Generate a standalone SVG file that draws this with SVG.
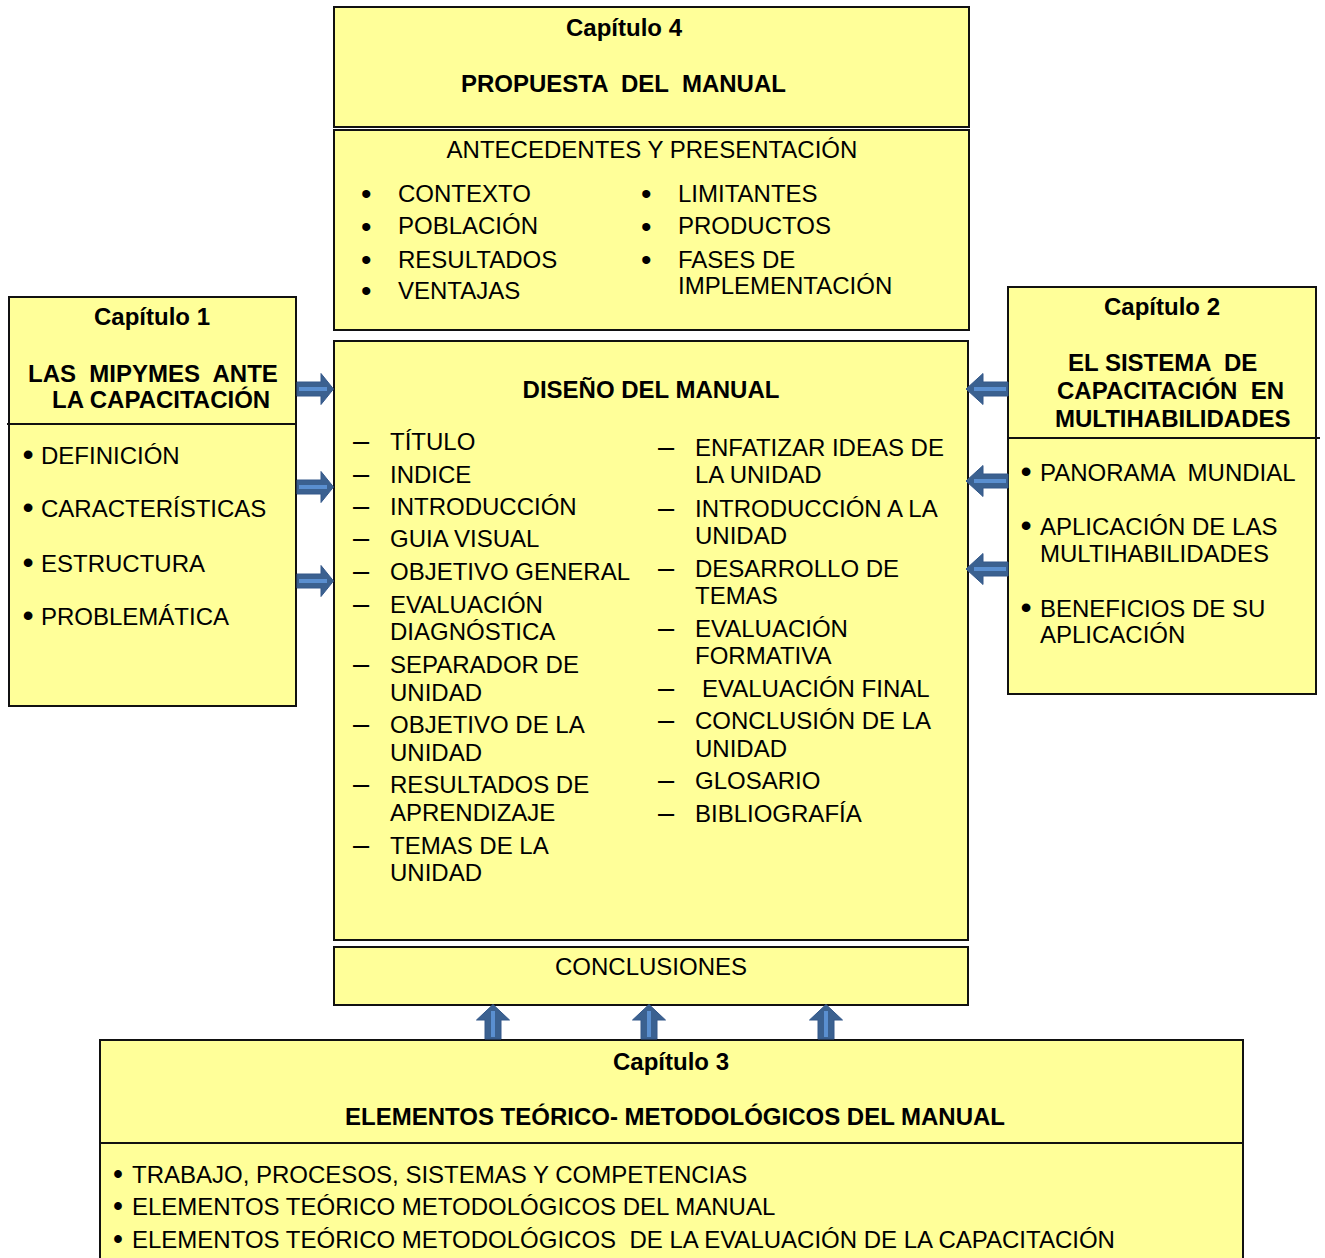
<svg xmlns="http://www.w3.org/2000/svg" width="1325" height="1258" viewBox="0 0 1325 1258">
  <style>
    .box { fill: #FFFF99; stroke: #111; stroke-width: 2; }
    .rule { stroke: #111; stroke-width: 2; }
    text { font-family: "Liberation Sans", Arial, sans-serif; font-size: 24px; fill: #000; }
    .b { font-weight: bold; }
    .mid { text-anchor: middle; }
    .big { font-size: 30px; }
    .dot { font-size: 32px; text-anchor: middle; }
    .dot-s { font-size: 27px; font-weight: bold; text-anchor: middle; }
    .dash { font-size: 29px; text-anchor: middle; }
    .arrow { fill: #3b6190; stroke: #34588a; stroke-width: 1; }
    .shine { stroke: #5a8fd0; stroke-width: 4; }
  </style>
  <defs>
    <!-- block arrow pointing right, origin at the tail centre -->
    <g id="arrowR">
      <polygon class="arrow" points="0,-7 24,-7 24,-15.5 36.5,0 24,15.5 24,7 0,7"/>
      <line class="shine" x1="2" y1="0" x2="30" y2="0"/>
    </g>
    <!-- block arrow pointing left, origin at the tail centre -->
    <g id="arrowL">
      <polygon class="arrow" points="0,-7 -25,-7 -25,-15.5 -42,0 -25,15.5 -25,7 0,7"/>
      <line class="shine" x1="-2" y1="0" x2="-34" y2="0"/>
    </g>
    <!-- block arrow pointing up, origin at the tail centre -->
    <g id="arrowU">
      <polygon class="arrow" points="-8,0 -8,-19 -16.5,-19 0,-34.5 16.5,-19 8,-19 8,0"/>
      <line class="shine" x1="0" y1="-2" x2="0" y2="-28"/>
    </g>
  </defs>

  <g id="cap4">
    <rect class="box" x="334" y="7" width="635" height="120"/>
    <text class="b mid" x="624" y="36">Capítulo 4</text>
    <text class="b" x="461" y="92" xml:space="preserve">PROPUESTA  DEL  MANUAL</text>
  </g>

  <g id="antecedentes">
    <rect class="box" x="334" y="130" width="635" height="200"/>
    <text class="mid" x="652" y="158">ANTECEDENTES Y PRESENTACIÓN</text>
    <text class="big" x="361" y="204">•</text>
    <text class="big" x="361" y="237">•</text>
    <text class="big" x="361" y="270">•</text>
    <text class="big" x="361" y="301">•</text>
    <text x="398" y="202">CONTEXTO</text>
    <text x="398" y="234">POBLACIÓN</text>
    <text x="398" y="268">RESULTADOS</text>
    <text x="398" y="299">VENTAJAS</text>
    <text class="big" x="641" y="204">•</text>
    <text class="big" x="641" y="237">•</text>
    <text class="big" x="641" y="270">•</text>
    <text x="678" y="202">LIMITANTES</text>
    <text x="678" y="234">PRODUCTOS</text>
    <text x="678" y="268">FASES DE</text>
    <text x="678" y="294">IMPLEMENTACIÓN</text>
  </g>

  <g id="diseno">
    <rect class="box" x="334" y="341" width="634" height="599"/>
    <text class="b mid" x="651" y="398">DISEÑO DEL MANUAL</text>
    <!-- left column -->
    <text class="dash" x="361" y="451">–</text><text x="390" y="450">TÍTULO</text>
    <text class="dash" x="361" y="484">–</text><text x="390" y="483">INDICE</text>
    <text class="dash" x="361" y="516">–</text><text x="390" y="515">INTRODUCCIÓN</text>
    <text class="dash" x="361" y="548">–</text><text x="390" y="547">GUIA VISUAL</text>
    <text class="dash" x="361" y="581">–</text><text x="390" y="580">OBJETIVO GENERAL</text>
    <text class="dash" x="361" y="614">–</text><text x="390" y="613">EVALUACIÓN</text>
    <text x="390" y="640">DIAGNÓSTICA</text>
    <text class="dash" x="361" y="674">–</text><text x="390" y="673">SEPARADOR DE</text>
    <text x="390" y="701">UNIDAD</text>
    <text class="dash" x="361" y="734">–</text><text x="390" y="733">OBJETIVO DE LA</text>
    <text x="390" y="761">UNIDAD</text>
    <text class="dash" x="361" y="794">–</text><text x="390" y="793">RESULTADOS DE</text>
    <text x="390" y="821">APRENDIZAJE</text>
    <text class="dash" x="361" y="855">–</text><text x="390" y="854">TEMAS DE LA</text>
    <text x="390" y="881">UNIDAD</text>
    <!-- right column -->
    <text class="dash" x="666" y="457">–</text><text x="695" y="456">ENFATIZAR IDEAS DE</text>
    <text x="695" y="483">LA UNIDAD</text>
    <text class="dash" x="666" y="518">–</text><text x="695" y="517">INTRODUCCIÓN A LA</text>
    <text x="695" y="544">UNIDAD</text>
    <text class="dash" x="666" y="578">–</text><text x="695" y="577">DESARROLLO DE</text>
    <text x="695" y="604">TEMAS</text>
    <text class="dash" x="666" y="638">–</text><text x="695" y="637">EVALUACIÓN</text>
    <text x="695" y="664">FORMATIVA</text>
    <text class="dash" x="666" y="698">–</text><text x="702" y="697">EVALUACIÓN FINAL</text>
    <text class="dash" x="666" y="730">–</text><text x="695" y="729">CONCLUSIÓN DE LA</text>
    <text x="695" y="757">UNIDAD</text>
    <text class="dash" x="666" y="790">–</text><text x="695" y="789">GLOSARIO</text>
    <text class="dash" x="666" y="823">–</text><text x="695" y="822">BIBLIOGRAFÍA</text>
  </g>

  <g id="conclusiones">
    <rect class="box" x="334" y="947" width="634" height="58"/>
    <text class="mid" x="651" y="975">CONCLUSIONES</text>
  </g>

  <g id="cap1">
    <rect class="box" x="9" y="297" width="287" height="409"/>
    <line class="rule" x1="7" y1="424" x2="296" y2="424"/>
    <text class="b mid" x="152" y="325">Capítulo 1</text>
    <text class="b" x="28" y="382" xml:space="preserve">LAS  MIPYMES  ANTE</text>
    <text class="b" x="52" y="408">LA CAPACITACIÓN</text>
    <text class="dot" x="28" y="465">•</text><text x="41" y="464">DEFINICIÓN</text>
    <text class="dot" x="28" y="518">•</text><text x="41" y="517">CARACTERÍSTICAS</text>
    <text class="dot" x="28" y="573">•</text><text x="41" y="572">ESTRUCTURA</text>
    <text class="dot" x="28" y="626">•</text><text x="41" y="625">PROBLEMÁTICA</text>
  </g>

  <g id="cap2">
    <rect class="box" x="1008" y="287" width="308" height="407"/>
    <line class="rule" x1="1008" y1="438" x2="1320" y2="438"/>
    <text class="b mid" x="1162" y="315">Capítulo 2</text>
    <text class="b" x="1068" y="371" xml:space="preserve">EL SISTEMA  DE</text>
    <text class="b" x="1057" y="399" xml:space="preserve">CAPACITACIÓN  EN</text>
    <text class="b" x="1055" y="427">MULTIHABILIDADES</text>
    <text class="dot" x="1026" y="482">•</text><text x="1040" y="481" xml:space="preserve">PANORAMA  MUNDIAL</text>
    <text class="dot" x="1026" y="536">•</text><text x="1040" y="535">APLICACIÓN DE LAS</text>
    <text x="1040" y="562">MULTIHABILIDADES</text>
    <text class="dot" x="1026" y="618">•</text><text x="1040" y="617">BENEFICIOS DE SU</text>
    <text x="1040" y="643">APLICACIÓN</text>
  </g>

  <g id="cap3">
    <rect class="box" x="100" y="1040" width="1143" height="230"/>
    <line class="rule" x1="100" y1="1143" x2="1243" y2="1143"/>
    <text class="b mid" x="671" y="1070">Capítulo 3</text>
    <text class="b" x="345" y="1125">ELEMENTOS TEÓRICO- METODOLÓGICOS DEL MANUAL</text>
    <text class="dot-s" x="118" y="1183">•</text><text x="132" y="1183">TRABAJO, PROCESOS, SISTEMAS Y COMPETENCIAS</text>
    <text class="dot-s" x="118" y="1215">•</text><text x="132" y="1215">ELEMENTOS TEÓRICO METODOLÓGICOS DEL MANUAL</text>
    <text class="dot-s" x="118" y="1248">•</text><text x="132" y="1248" xml:space="preserve">ELEMENTOS TEÓRICO METODOLÓGICOS  DE LA EVALUACIÓN DE LA CAPACITACIÓN</text>
  </g>

  <g id="connectors">
    <!-- chapter 1 into the manual design -->
    <use href="#arrowR" x="297" y="389"/>
    <use href="#arrowR" x="297" y="487"/>
    <use href="#arrowR" x="297" y="581"/>
    <!-- chapter 2 into the manual design -->
    <use href="#arrowL" x="1008" y="389"/>
    <use href="#arrowL" x="1008" y="481"/>
    <use href="#arrowL" x="1008" y="569"/>
    <!-- chapter 3 up to the conclusions -->
    <use href="#arrowU" x="493" y="1039"/>
    <use href="#arrowU" x="649" y="1039"/>
    <use href="#arrowU" x="826" y="1039"/>
  </g>
</svg>
